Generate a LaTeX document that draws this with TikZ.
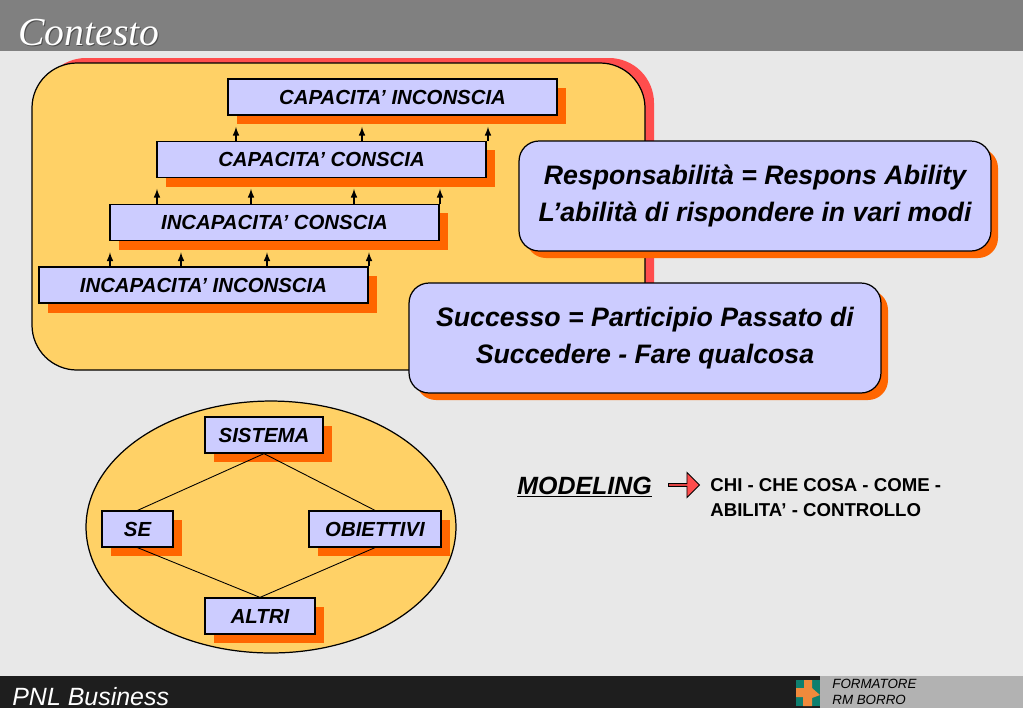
\documentclass[tikz,border=0pt]{standalone}
\usepackage{fontspec}
\setmainfont{Liberation Sans}
\newfontfamily\titlefont{Liberation Serif}
\usetikzlibrary{shapes.geometric, shapes.arrows, arrows}

\definecolor{pagegray}{HTML}{E8E8E8}
\definecolor{bandgray}{HTML}{808080}
\definecolor{footdark}{HTML}{1E1E1E}
\definecolor{footgray}{HTML}{B2B2B2}
\definecolor{panelyellow}{HTML}{FFD166}
\definecolor{boxblue}{HTML}{CCCCFF}
\definecolor{shadeorange}{HTML}{FF6600}
\definecolor{shadered}{HTML}{FF4D4D}
\definecolor{logoteal}{HTML}{0F7F6F}
\definecolor{logoorange}{HTML}{F08A3C}

\tikzset{
  levelbox/.style={draw=black, line width=0.7pt, fill=boxblue, inner sep=0pt,
    font=\fontsize{11.6}{14}\bfseries\itshape},
  roundbox/.style={draw=black, line width=0.7pt, fill=boxblue, inner sep=0pt,
    rounded corners=0.4cm, align=center,
    font=\fontsize{15.2}{21}\bfseries\itshape},
  uparrow/.style={draw=black, line width=0.7pt, -latex},
  linkline/.style={draw=black, line width=0.5pt}
}

\begin{document}
\begin{tikzpicture}[x=0.02cm, y=-0.02cm]
\useasboundingbox (0,0) rectangle (1023,708);
% page and bands
\fill[color=pagegray] (0,0) rectangle (1023,708);
\fill[color=bandgray] (0,0) rectangle (1023,51);
\fill[color=footdark] (0,676) rectangle (820,708);
\fill[color=footgray] (820,676) rectangle (1023,708);
\node[anchor=base west, text=black!70, font=\titlefont\fontsize{22.6}{26}\itshape] (titleshade) at (13,46) {Contesto};
\node[anchor=base west, text=white, font=\titlefont\fontsize{22.6}{26}\itshape] (title) at (12,45) {Contesto};
\node[anchor=base west, text=white, font=\fontsize{14.2}{16}\itshape, inner sep=0pt] (footer) at (12,705) {PNL Business};

% upper panel
\fill[color=shadered, rounded corners=0.9cm] (41,58) rectangle (654,365);
\draw[color=black, fill=panelyellow, line width=0.7pt, rounded corners=0.9cm] (32,63) rectangle (645,370);

% levels
\fill[color=shadeorange] (237,88) rectangle (566,124);
\fill[color=shadeorange] (166,150) rectangle (495,187);
\fill[color=shadeorange] (119,213) rectangle (448,250);
\fill[color=shadeorange] (48,276) rectangle (377,313);
\node[levelbox, minimum width=6.58cm, minimum height=0.72cm] (capinc) at (392.5,97) {CAPACITA’ INCONSCIA};
\node[levelbox, minimum width=6.58cm, minimum height=0.72cm] (capcon) at (321.5,159.5) {CAPACITA’ CONSCIA};
\node[levelbox, minimum width=6.58cm, minimum height=0.72cm] (inccon) at (274.5,222.5) {INCAPACITA’ CONSCIA};
\node[levelbox, minimum width=6.58cm, minimum height=0.72cm] (incinc) at (203.5,285) {INCAPACITA’ INCONSCIA};

\foreach \ax in {236,362,488}
  \draw[uparrow] (\ax,0 |- capcon.north) -- ++(0,-14);
\foreach \ax in {157,251,354,440}
  \draw[uparrow] (\ax,0 |- inccon.north) -- ++(0,-15);
\foreach \ax in {110,181,267,369}
  \draw[uparrow] (\ax,0 |- incinc.north) -- ++(0,-14);

% definitions
\fill[color=shadeorange, rounded corners=0.4cm] (526,148) rectangle (998,258);
\node[roundbox, minimum width=9.44cm, minimum height=2.2cm] (respons) at (755,196) {Responsabilità = Respons Ability\\L’abilità di rispondere in vari modi};
\fill[color=shadeorange, rounded corners=0.4cm] (416,290) rectangle (888,400);
\node[roundbox, minimum width=9.44cm, minimum height=2.2cm] (successo) at (645,338) {Successo = Participio Passato di\\Succedere - Fare qualcosa};

% lower panel
\node[ellipse, draw=black, fill=panelyellow, line width=0.7pt, minimum width=7.4cm, minimum height=5.04cm, inner sep=0pt] (cerchio) at (271,527) {};
\fill[color=shadeorange] (214,426) rectangle (332,462);
\fill[color=shadeorange] (111,520) rectangle (182,556);
\fill[color=shadeorange] (318,520) rectangle (450,556);
\fill[color=shadeorange] (214,607) rectangle (324,643);
\node[levelbox, minimum width=2.36cm, minimum height=0.72cm] (sistema) at (264,435) {SISTEMA};
\node[levelbox, minimum width=1.42cm, minimum height=0.72cm] (se) at (137.5,529) {SE};
\node[levelbox, minimum width=2.64cm, minimum height=0.72cm] (obiettivi) at (375,529) {OBIETTIVI};
\node[levelbox, minimum width=2.2cm, minimum height=0.72cm] (altri) at (260,616) {ALTRI};
\draw[linkline] (sistema.south) -- (se.north);
\draw[linkline] (sistema.south) -- (obiettivi.north);
\draw[linkline] (se.south) -- (altri.north);
\draw[linkline] (obiettivi.south) -- (altri.north);

% modeling
\node[anchor=base west, inner sep=0pt, font=\fontsize{14.2}{16}\bfseries\itshape] (modeling) at (517,494) {\underline{MODELING}};
\node[single arrow, draw=black, fill=shadered, line width=0.5pt, minimum width=0.5cm, minimum height=0.62cm, single arrow head extend=0.07cm, single arrow head indent=0cm, inner sep=0pt, anchor=west] (freccia) at (668,485) {};
\node[anchor=north west, inner sep=0pt, align=left, font=\fontsize{10.6}{14.2}\bfseries] (chi) at (710,478) {CHI - CHE COSA - COME -\\ABILITA’ - CONTROLLO};

% logo and trainer
\fill[color=logoteal] (796,680) rectangle (820,706);
\fill[color=logoorange] (796,688) -- (804,688) -- (804,680) -- (812,680) -- (812,688) -- (820,695) -- (812,698) -- (812,706) -- (803,706) -- (803,697) -- (796,697) -- cycle;
\node[anchor=north west, inner sep=0pt, align=left, text=black, font=\fontsize{7.6}{9.2}\itshape] (formatore) at (832,679) {FORMATORE\\RM BORRO};
\end{tikzpicture}
\end{document}
